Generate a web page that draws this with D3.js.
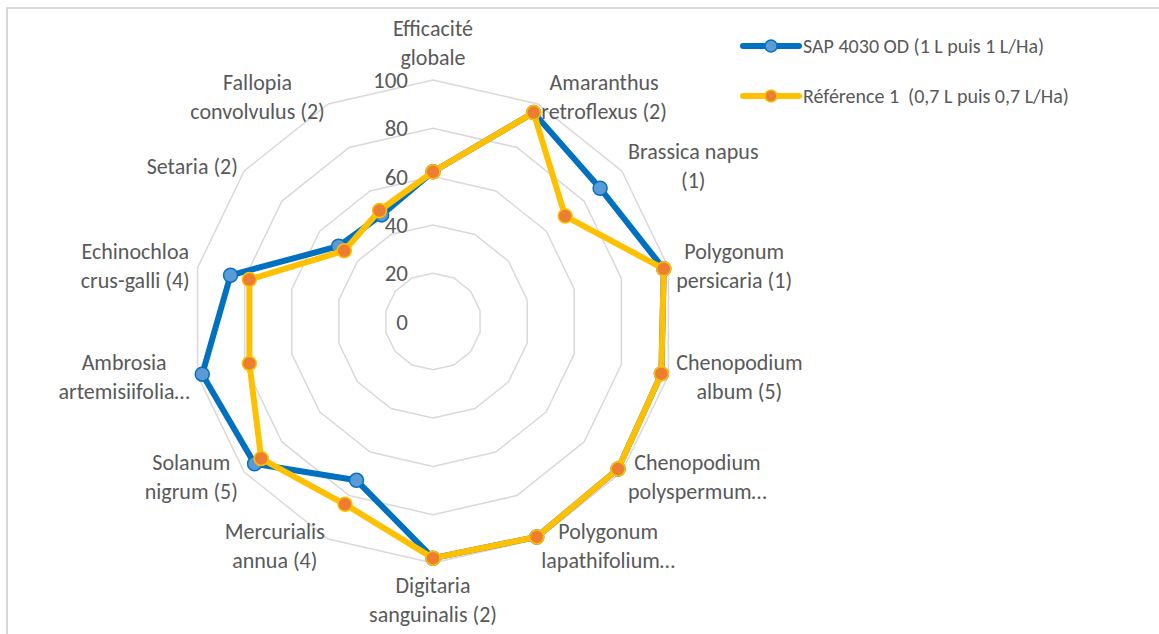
<!DOCTYPE html>
<html>
<head>
<meta charset="utf-8">
<script src="https://cdn.jsdelivr.net/npm/d3@7"></script>
<style>
  body { margin: 0; background: #fff; }
  text { font-family: Carlito, Calibri, Lato, sans-serif; fill: #595959; }
</style>
</head>
<body>
<svg id="drawing_region"></svg>
<script>
// axes of the radar, clockwise from the top ("\n" = line break of the label)
const categories = [
  "Efficacité\nglobale",
  "Amaranthus\nretroflexus (2)",
  "Brassica napus\n(1)",
  "Polygonum\npersicaria (1)",
  "Chenopodium\nalbum (5)",
  "Chenopodium\npolyspermum…",
  "Polygonum\nlapathifolium…",
  "Digitaria\nsanguinalis (2)",
  "Mercurialis\nannua (4)",
  "Solanum\nnigrum (5)",
  "Ambrosia\nartemisiifolia…",
  "Echinochloa\ncrus-galli (4)",
  "Setaria (2)",
  "Fallopia\nconvolvulus (2)"
];
const sapValues = [62, 96, 88.5, 98, 97, 98, 99, 98, 73, 94.5, 98, 86, 50, 49];
const refValues = [62, 96, 70, 98, 97, 98, 99, 98, 84, 91, 78, 78, 47, 51];
const seriesNames = ["SAP 4030 OD (1 L puis 1 L/Ha)", "Référence 1  (0,7 L puis 0,7 L/Ha)"];
const tickValues = [0, 20, 40, 60, 80, 100];

const series = [
  { name: seriesNames[0], values: sapValues, line: "#0070c0", fill: "#5b9bd5" },
  { name: seriesNames[1], values: refValues, line: "#ffc000", fill: "#ed7d31" }
];

const W = 1159, H = 634;
const cx = 433, cy = 321.5, R = 241.5;

const svg = d3.select('#drawing_region')
  .attr('width', W)
  .attr('height', H);

// frame of the chart area
svg.append('rect')
  .attr('x', 7).attr('y', 8)
  .attr('width', W).attr('height', H)
  .attr('fill', 'none')
  .attr('stroke', '#d9d9d9')
  .attr('stroke-width', 2);

const r = d3.scaleLinear().domain([0, 100]).range([0, R]);
const angle = d3.scaleLinear().domain([0, categories.length]).range([0, 2 * Math.PI]);

const chart = svg.append('g')
  .attr('transform', `translate(${cx}, ${cy})`);

const radial = d3.lineRadial()
  .angle((d, i) => angle(i))
  .radius(d => r(d))
  .curve(d3.curveLinearClosed);

// grid rings
chart.append('g').selectAll('path')
  .data(tickValues.filter(t => t > 0))
  .join('path')
  .attr('d', t => radial(categories.map(() => t)))
  .attr('fill', 'none')
  .attr('stroke', '#d9d9d9')
  .attr('stroke-width', 1.5);

// tick labels
chart.append('g').selectAll('text')
  .data(tickValues)
  .join('text')
  .attr('x', -25)
  .attr('y', t => -r(t))
  .attr('dy', '0.35em')
  .attr('text-anchor', 'end')
  .attr('font-size', '23px')
  .text(t => t);

// category labels
const labelGroup = chart.append('g');
categories.forEach((c, i) => {
  const a = angle(i);
  const dx = Math.sin(a), dy = -Math.cos(a);
  const px = (R + 8) * dx, py = (R + 8) * dy;
  const lines = c.split('\n');
  const lh = 29;
  const g = labelGroup.append('g');
  const texts = g.selectAll('text')
    .data(lines)
    .join('text')
    .attr('font-size', '22px')
    .attr('text-anchor', 'middle')
    .attr('dy', '0.35em')
    .text(d => d);
  const w = d3.max(texts.nodes(), n => n.getComputedTextLength());
  const h = lines.length * lh;
  let bx, by; // centre of the label block
  if (Math.abs(dx) < 0.05) {
    bx = px;
    by = dy < 0 ? py - h / 2 : py + h / 2;
  } else {
    bx = dx > 0 ? px + w / 2 : px - w / 2;
    by = py;
  }
  texts.attr('x', bx)
    .attr('y', (d, k) => by - h / 2 + lh / 2 + k * lh);
});

// series: line, then markers
series.forEach(s => {
  const g = chart.append('g');
  g.append('path')
    .attr('d', radial(s.values))
    .attr('fill', 'none')
    .attr('stroke', s.line)
    .attr('stroke-width', 6)
    .attr('stroke-linejoin', 'round');
  g.selectAll('circle')
    .data(s.values)
    .join('circle')
    .attr('cx', (d, i) => r(d) * Math.sin(angle(i)))
    .attr('cy', (d, i) => -r(d) * Math.cos(angle(i)))
    .attr('r', 7)
    .attr('fill', s.fill)
    .attr('stroke', s.line)
    .attr('stroke-width', 1.5);
});

// legend
const legend = svg.append('g')
  .selectAll('g')
  .data(series)
  .join('g')
  .attr('transform', (d, i) => `translate(743, ${46 + i * 50})`);

legend.append('line')
  .attr('x1', 0).attr('x2', 56)
  .attr('stroke', d => d.line)
  .attr('stroke-width', 6)
  .attr('stroke-linecap', 'round');

legend.append('circle')
  .attr('cx', 28)
  .attr('r', 6)
  .attr('fill', d => d.fill)
  .attr('stroke', d => d.line)
  .attr('stroke-width', 1.5);

legend.append('text')
  .attr('x', 60)
  .attr('dy', '0.35em')
  .attr('font-size', '20px')
  .style('white-space', 'pre')
  .text(d => d.name);
</script>
</body>
</html>
